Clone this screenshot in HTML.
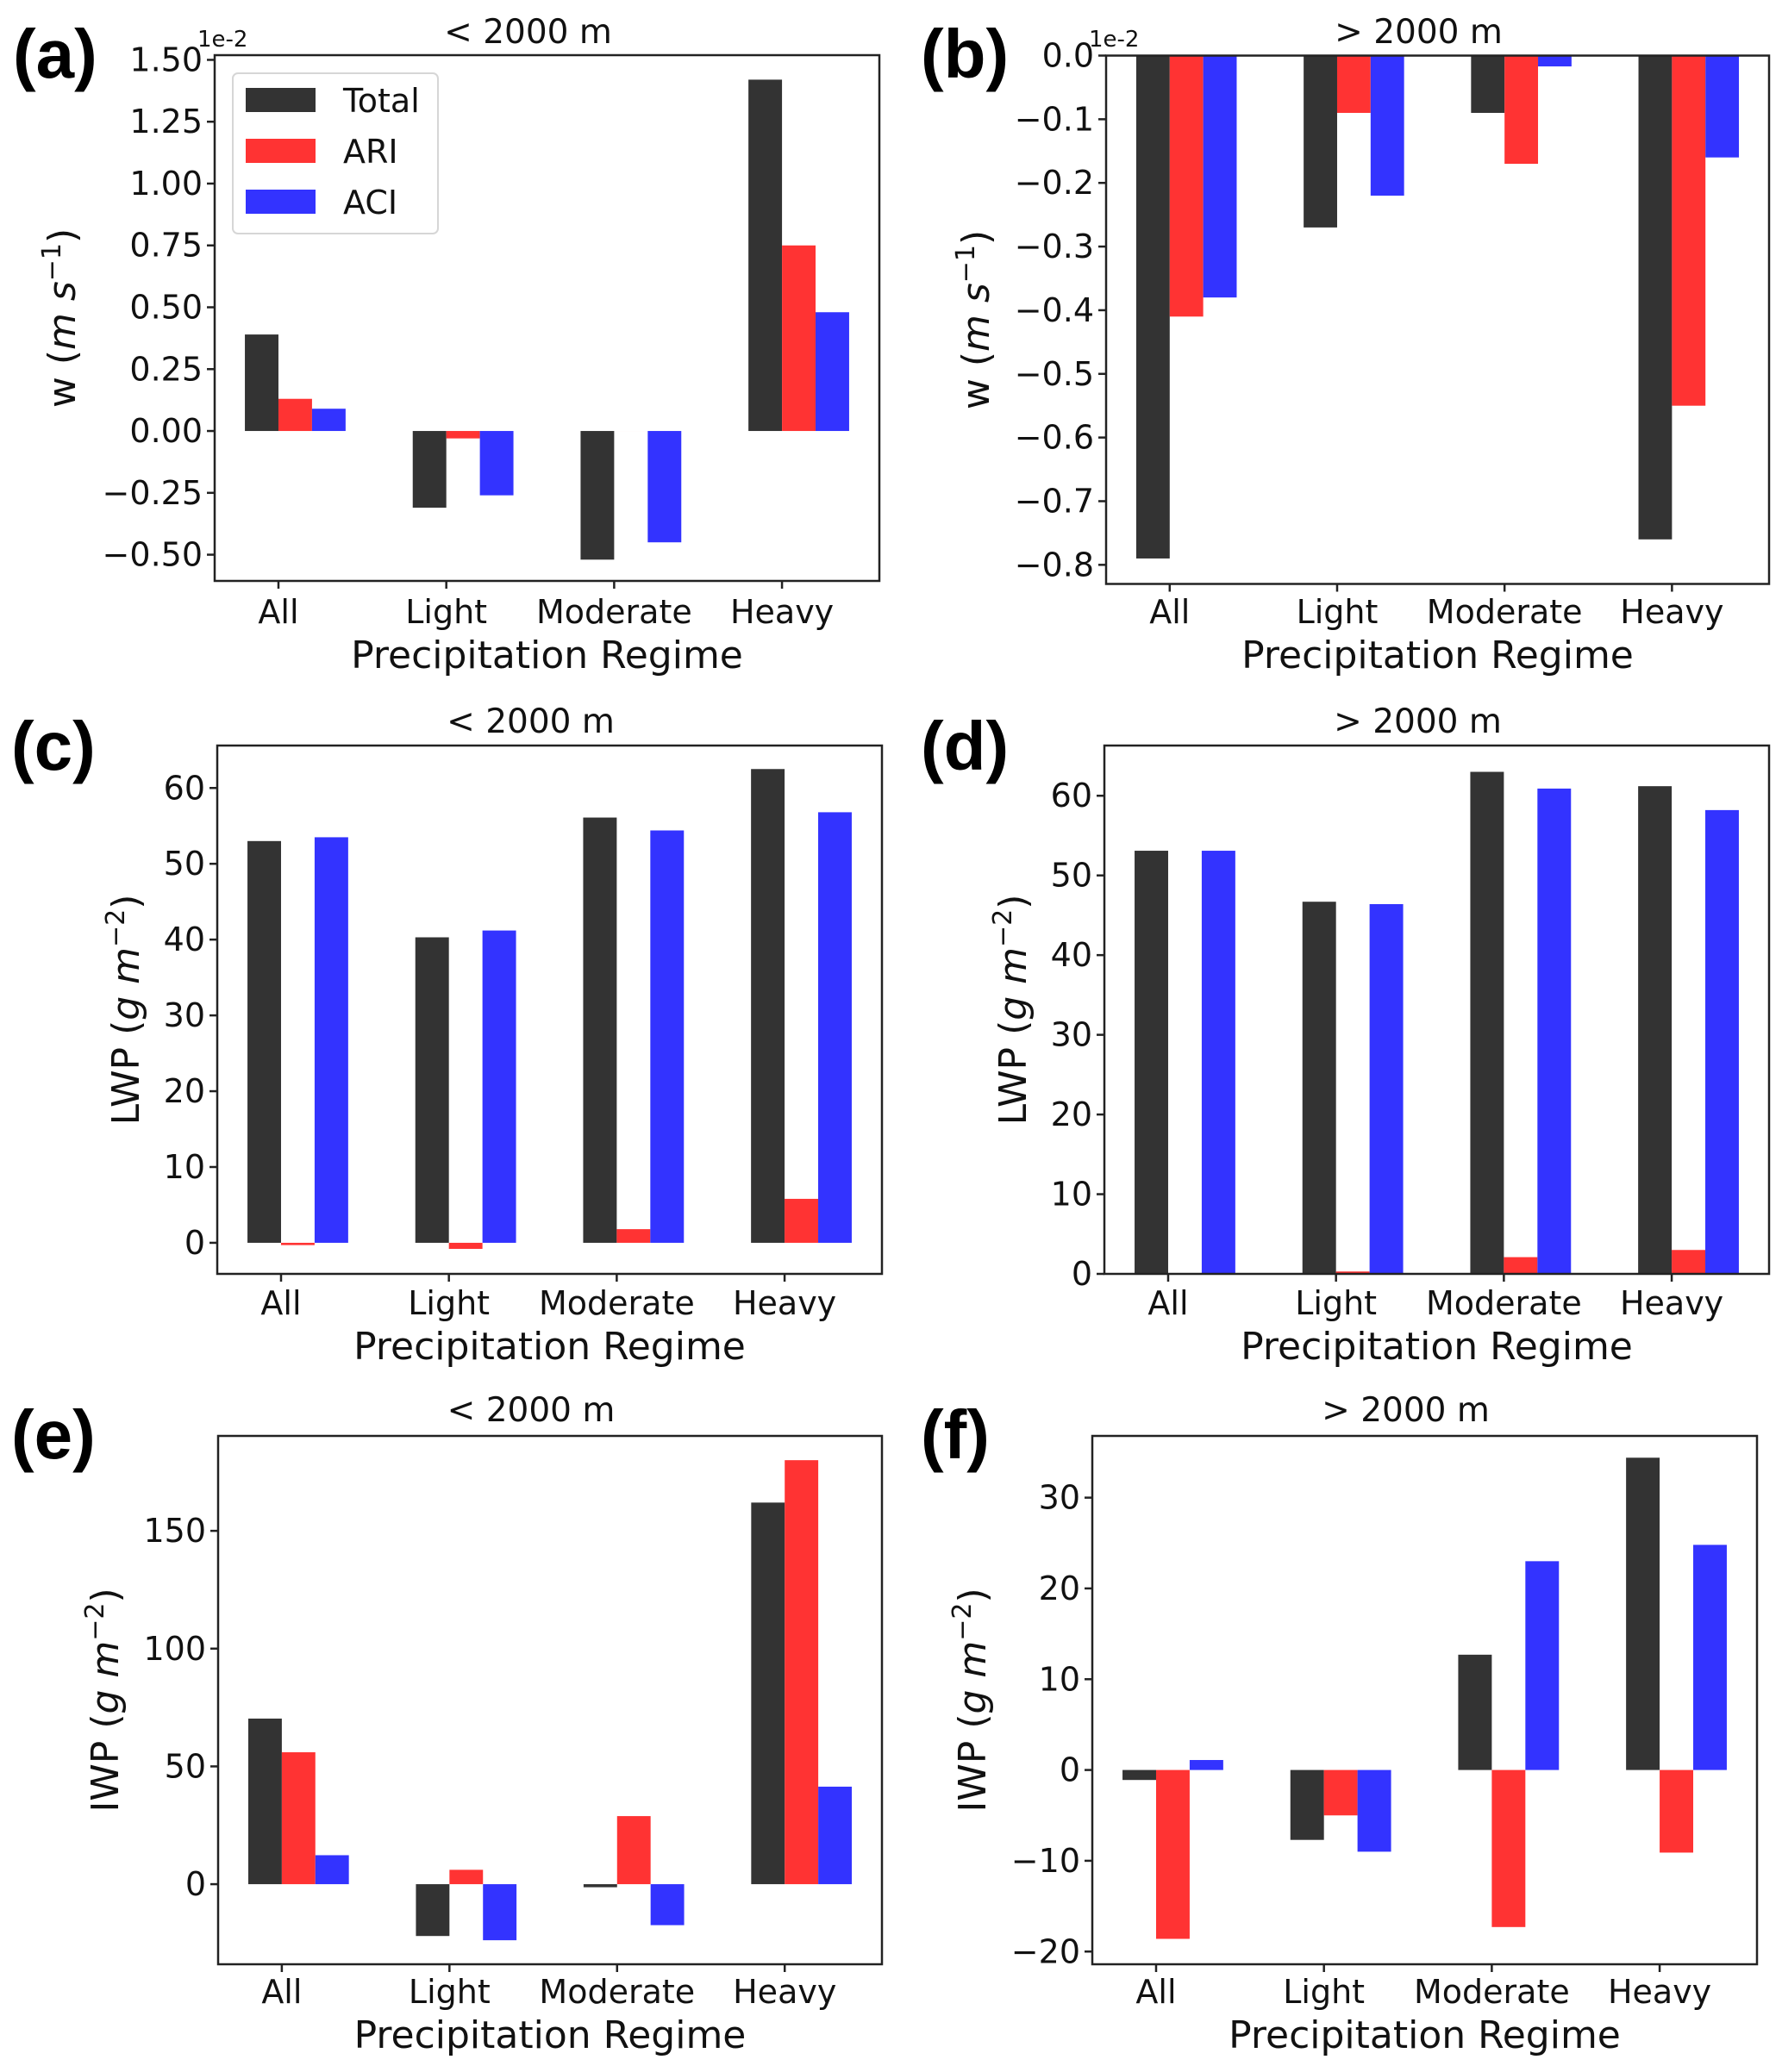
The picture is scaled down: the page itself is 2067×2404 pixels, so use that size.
<!DOCTYPE html>
<html>
<head>
<meta charset="utf-8">
<style>
  html,body{margin:0;padding:0;background:#fff;}
  svg{display:block;}
  text{font-family:"DejaVu Sans","Liberation Sans",sans-serif;fill:#111;}
  .plabel{font-family:"Liberation Sans",sans-serif;font-weight:bold;font-size:80px;fill:#000;}
</style>
</head>
<body>
<svg id="fig" width="2067" height="2404" viewBox="0 0 2067 2404" xmlns="http://www.w3.org/2000/svg">
<rect x="0" y="0" width="2067" height="2404" fill="#fff"/>
</svg>
<script>
// ---- data ----
const categories = ["All", "Light", "Moderate", "Heavy"];
const seriesNames = ["Total", "ARI", "ACI"];
const seriesColors = ["#333333", "#ff3333", "#3333ff"];

const aTotal = [0.39, -0.31, -0.52, 1.42];
const aARI   = [0.13, -0.03, 0.0, 0.75];
const aACI   = [0.09, -0.26, -0.45, 0.48];
const aTicks = [-0.5, -0.25, 0, 0.25, 0.5, 0.75, 1.0, 1.25, 1.5];
const aTickLabels = ["\u22120.50", "\u22120.25", "0.00", "0.25", "0.50", "0.75", "1.00", "1.25", "1.50"];

const bTotal = [-0.79, -0.27, -0.09, -0.76];
const bARI   = [-0.41, -0.09, -0.17, -0.55];
const bACI   = [-0.38, -0.22, -0.017, -0.16];
const bTicks = [0, -0.1, -0.2, -0.3, -0.4, -0.5, -0.6, -0.7, -0.8];
const bTickLabels = ["0.0", "\u22120.1", "\u22120.2", "\u22120.3", "\u22120.4", "\u22120.5", "\u22120.6", "\u22120.7", "\u22120.8"];

const cTotal = [53.0, 40.3, 56.1, 62.5];
const cARI   = [-0.3, -0.8, 1.8, 5.8];
const cACI   = [53.5, 41.2, 54.4, 56.8];
const cTicks = [0, 10, 20, 30, 40, 50, 60];
const cTickLabels = ["0", "10", "20", "30", "40", "50", "60"];

const dTotal = [53.1, 46.7, 63.0, 61.2];
const dARI   = [0.0, 0.3, 2.1, 3.0];
const dACI   = [53.1, 46.4, 60.9, 58.2];
const dTicks = [0, 10, 20, 30, 40, 50, 60];
const dTickLabels = ["0", "10", "20", "30", "40", "50", "60"];

const eTotal = [70.3, -22.0, -1.3, 162.0];
const eARI   = [56.0, 6.1, 28.9, 180.0];
const eACI   = [12.3, -23.8, -17.4, 41.4];
const eTicks = [0, 50, 100, 150];
const eTickLabels = ["0", "50", "100", "150"];

const fTotal = [-1.1, -7.7, 12.7, 34.4];
const fARI   = [-18.6, -5.0, -17.3, -9.1];
const fACI   = [1.1, -9.0, 23.0, 24.8];
const fTicks = [-20, -10, 0, 10, 20, 30];
const fTickLabels = ["\u221220", "\u221210", "0", "10", "20", "30"];

// ---- layout (pixels, not data) ----
const panels = [
  {id:"a", L:249, R:1020, T:64, B:674, ymin:-0.606, ymax:1.519, series:[aTotal,aARI,aACI], ticks:aTicks, tl:aTickLabels,
   title:"< 2000 m", yl:"w", sup:"\u22121", unit2:"s", ylx:73, lab:[15,90], row:0, legend:true, exp:true},
  {id:"b", L:1283, R:2052, T:64.5, B:677.5, ymin:-0.83, ymax:0, series:[bTotal,bARI,bACI], ticks:bTicks, tl:bTickLabels,
   title:"> 2000 m", yl:"w", sup:"\u22121", unit2:"s", ylx:1133, lab:[1068,90], row:0, exp:true},
  {id:"c", L:252, R:1023, T:865, B:1478, ymin:-4.1, ymax:65.6, series:[cTotal,cARI,cACI], ticks:cTicks, tl:cTickLabels,
   title:"< 2000 m", yl:"LWP", sup:"\u22122", unit2:"g", ylx:147, lab:[13,893], row:1},
  {id:"d", L:1281, R:2052, T:865, B:1478, ymin:0, ymax:66.3, series:[dTotal,dARI,dACI], ticks:dTicks, tl:dTickLabels,
   title:"> 2000 m", yl:"LWP", sup:"\u22122", unit2:"g", ylx:1176, lab:[1068,893], row:1},
  {id:"e", L:253, R:1023, T:1666, B:2279, ymin:-34, ymax:190.3, series:[eTotal,eARI,eACI], ticks:eTicks, tl:eTickLabels,
   title:"< 2000 m", yl:"IWP", sup:"\u22122", unit2:"g", ylx:123, lab:[13,1692], row:2},
  {id:"f", L:1267, R:2038, T:1666, B:2279, ymin:-21.4, ymax:36.8, series:[fTotal,fARI,fACI], ticks:fTicks, tl:fTickLabels,
   title:"> 2000 m", yl:"IWP", sup:"\u22122", unit2:"g", ylx:1129, lab:[1068,1692], row:2}
];
const rowTitleY = [50, 850, 1649];
const rowTickY = [723, 1525, 2324];
const rowXlabY = [775, 1577, 2376];

const NS = "http://www.w3.org/2000/svg";
const svg = document.getElementById("fig");
function mk(tag, attrs, parent){
  const e = document.createElementNS(NS, tag);
  for (const k in attrs) e.setAttribute(k, attrs[k]);
  (parent || svg).appendChild(e);
  return e;
}

panels.forEach(p => {
  const g = mk("g", {});
  
  
  const xmin = -0.38, xmax = 3.58;
  const xs = v => p.L + (v - xmin) / (xmax - xmin) * (p.R - p.L);
  const ys = v => p.B - (v - p.ymin) / (p.ymax - p.ymin) * (p.B - p.T);
  const bw = 0.2;

  // bars
  p.series.forEach((vals, si) => {
    vals.forEach((v, ci) => {
      const x0 = xs(ci + (si - 1) * bw);
      const x1 = xs(ci + si * bw);
      const y0 = ys(0), y1 = ys(v);
      const r = mk("rect", {x:x0, y:Math.min(y0,y1), width:x1-x0, height:Math.max(Math.abs(y1-y0),0.01), fill:seriesColors[si]}, g);
      
      
    });
  });

  // frame
  const fr = mk("rect", {x:p.L, y:p.T, width:p.R-p.L, height:p.B-p.T, fill:"none", stroke:"#222", "stroke-width":2.5}, g);
  
  

  // y ticks
  p.ticks.forEach((t, i) => {
    const y = ys(t);
    const tk = mk("line", {x1:p.L-9, x2:p.L, y1:y, y2:y, stroke:"#222", "stroke-width":2.5}, g);
    
    
    const tx = mk("text", {x:p.L-14, y:y+13, "text-anchor":"end", "font-size":38}, g);
    tx.textContent = p.tl[i];
    
    
  });

  // x ticks
  categories.forEach((c, i) => {
    const x = xs(i);
    const tk = mk("line", {x1:x, x2:x, y1:p.B, y2:p.B+9, stroke:"#222", "stroke-width":2.5}, g);
    
    
    const tx = mk("text", {x:x, y:rowTickY[p.row], "text-anchor":"middle", "font-size":38}, g);
    tx.textContent = c;
    
    
  });

  // title
  const tt = mk("text", {x:(p.L+p.R)/2 - 22, y:rowTitleY[p.row], "text-anchor":"middle", "font-size":39}, g);
  tt.textContent = p.title;
  
  

  // x label
  const xl = mk("text", {x:(p.L+p.R)/2, y:rowXlabY[p.row], "text-anchor":"middle", "font-size":44}, g);
  xl.textContent = "Precipitation Regime";
  
  

  // y label
  const cy = (p.T + p.B) / 2;
  const yl = mk("text", {x:0, y:0, "text-anchor":"middle", "font-size":44, transform:"translate(" + (p.ylx+14) + "," + cy + ") rotate(-90)"}, g);
  
  
  const t1 = mk("tspan", {}, yl); t1.textContent = p.yl + " (";
  const t2 = mk("tspan", {"font-style":"italic"}, yl);
  t2.textContent = p.id === "a" || p.id === "b" ? "m s" : "g m";
  const t3 = mk("tspan", {"font-size":30, dy:-17}, yl); t3.textContent = p.sup;
  const t4 = mk("tspan", {dy:17}, yl); t4.textContent = ")";

  // offset text
  if (p.exp) {
    const ex = mk("text", {x:p.L-20, y:54, "font-size":26}, g);
    ex.textContent = "1e-2";
    
    
  }

  // panel letter
  const pl = mk("text", {x:p.lab[0], y:p.lab[1], "class":"plabel"}, g);
  pl.textContent = "(" + p.id + ")";
  
  

  // legend
  if (p.legend) {
    const lg = mk("g", {}, g);
    
    
    mk("rect", {x:270, y:85, width:238, height:186, rx:6, fill:"#fff", "fill-opacity":0.8, stroke:"#d6d6d6", "stroke-width":2}, lg);
    const rowsY = [116, 175, 234];
    seriesNames.forEach((s, i) => {
      const ent = mk("g", {}, lg);
      
      
      mk("rect", {x:285, y:rowsY[i]-14, width:81, height:28, fill:seriesColors[i]}, ent);
      const lt = mk("text", {x:398, y:rowsY[i]+14, "font-size":38}, ent);
      lt.textContent = s;
    });
  }
});
</script>
</body>
</html>
